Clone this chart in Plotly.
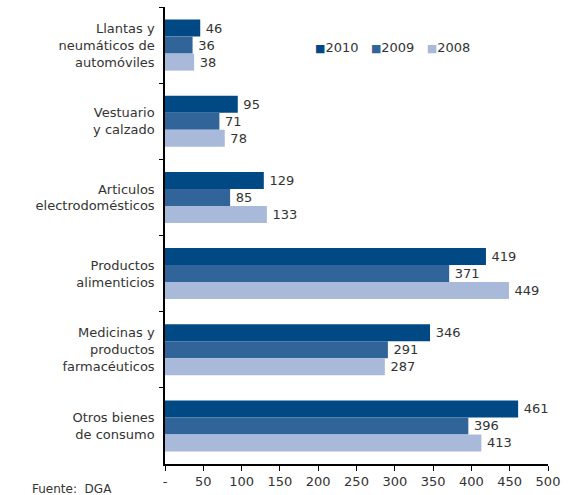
import plotly.graph_objects as go

categories = [
    "Llantas y<br>neumáticos de<br>automóviles",
    "Vestuario<br>y calzado",
    "Articulos<br>electrodomésticos",
    "Productos<br>alimenticios",
    "Medicinas y<br>productos<br>farmacéuticos",
    "Otros bienes<br>de consumo",
]
v2010 = [46, 95, 129, 419, 346, 461]
v2009 = [36, 71, 85, 371, 291, 396]
v2008 = [38, 78, 133, 449, 287, 413]

x_ticks = [0, 50, 100, 150, 200, 250, 300, 350, 400, 450, 500]
x_labels = ["-"] + [str(v) for v in x_ticks[1:]]

series = [("2010", v2010, "#004985"), ("2009", v2009, "#316599"), ("2008", v2008, "#A9B9D9")]

fnt = "DejaVu Sans, sans-serif"
txt = "#333333"
fig = go.Figure()
for name, vals, col in series:
    fig.add_trace(go.Bar(
        y=categories, x=vals, name=name, orientation="h", showlegend=False,
        marker=dict(color=col, line=dict(width=0)),
        text=["\u2009" + str(v) for v in vals], textposition="outside",
        textfont=dict(size=13, color=txt), cliponaxis=False,
    ))

# compact legend like the original (small squares next to the year)
legend_txt = "   ".join(
    f"<span style='color:{col};font-size:11px'>■</span>{name}" for name, _, col in series
)

fig.update_layout(
    width=570, height=495,
    margin=dict(l=165, r=22, t=7, b=31, autoexpand=False),
    barmode="group", bargap=0.33, bargroupgap=0,
    plot_bgcolor="white", paper_bgcolor="white",
    font=dict(family=fnt, size=13, color=txt),
    annotations=[
        dict(text=legend_txt, x=148 / 383, y=1 - 41 / 457, xref="paper", yref="paper",
             showarrow=False, xanchor="left", yanchor="middle",
             font=dict(size=13, color=txt)),
        dict(text="Fuente:  DGA", x=-135 / 383, y=-25 / 457, xref="paper", yref="paper",
             showarrow=False, xanchor="left", yanchor="middle",
             font=dict(size=12, color=txt)),
    ],
)
fig.update_xaxes(range=[0, 500], tickvals=x_ticks, ticktext=x_labels, automargin=False,
                 showline=True, linecolor="black", linewidth=1.5,
                 ticks="outside", ticklen=5, tickcolor="black", showgrid=False,
                 zeroline=False, tickfont=dict(size=13))
fig.update_yaxes(autorange="reversed", automargin=False, showline=True, linecolor="black",
                 linewidth=1.5, ticks="outside", ticklen=4, tickcolor="black",
                 tickson="boundaries", showgrid=False, tickfont=dict(size=13),
                 ticklabelstandoff=6)

fig.write_html("out.html", config={"displayModeBar": False},
               post_script="document.body.style.margin='0';")
